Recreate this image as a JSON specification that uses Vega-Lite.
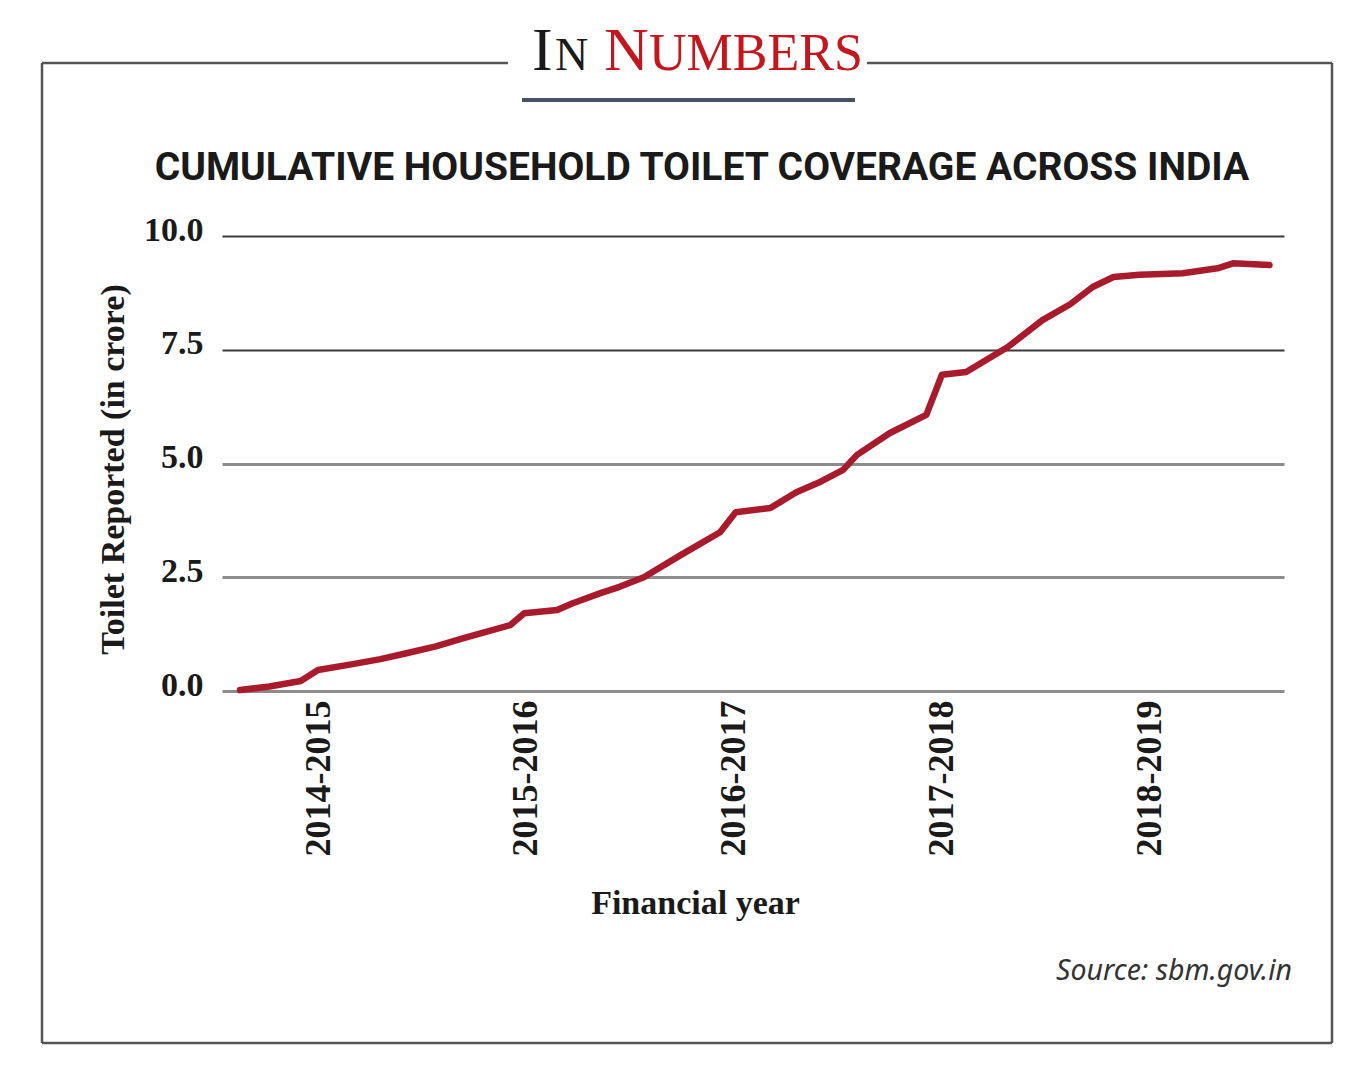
{
  "$schema": "https://vega.github.io/schema/vega-lite/v6.json",
  "autosize": {"type": "none"},
  "width": 1062,
  "height": 455,
  "padding": {"left": 222, "top": 236, "right": 68, "bottom": 379},
  "background": "white",
  "config": {"view": {"stroke": null}},
  "data": {"values": [
    {"t": -4.5, "v": 0.02}, {"t": -2.8, "v": 0.10}, {"t": -1.0, "v": 0.22}, {"t": 0.0, "v": 0.46},
    {"t": 2.0, "v": 0.59}, {"t": 3.6, "v": 0.70}, {"t": 5.1, "v": 0.83}, {"t": 6.8, "v": 0.98},
    {"t": 8.4, "v": 1.16}, {"t": 9.9, "v": 1.32}, {"t": 11.1, "v": 1.45}, {"t": 11.9, "v": 1.71},
    {"t": 13.8, "v": 1.78}, {"t": 14.7, "v": 1.93}, {"t": 16.3, "v": 2.15}, {"t": 17.4, "v": 2.29},
    {"t": 18.8, "v": 2.50}, {"t": 20.9, "v": 2.98}, {"t": 23.2, "v": 3.49}, {"t": 24.1, "v": 3.93},
    {"t": 26.1, "v": 4.02}, {"t": 27.6, "v": 4.37}, {"t": 29.0, "v": 4.60}, {"t": 30.3, "v": 4.86},
    {"t": 31.1, "v": 5.19}, {"t": 33.0, "v": 5.67}, {"t": 35.1, "v": 6.07}, {"t": 36.0, "v": 6.95},
    {"t": 37.4, "v": 7.01}, {"t": 39.8, "v": 7.56}, {"t": 41.8, "v": 8.15}, {"t": 43.4, "v": 8.50},
    {"t": 44.7, "v": 8.88}, {"t": 45.9, "v": 9.10}, {"t": 47.4, "v": 9.15}, {"t": 49.9, "v": 9.18},
    {"t": 51.9, "v": 9.29}, {"t": 52.8, "v": 9.40}, {"t": 54.9, "v": 9.36}
  ]},
  "layer": [
    {
      "mark": {"type": "line", "color": "#a91b2c", "strokeWidth": 6.5, "strokeJoin": "round", "strokeCap": "round"},
      "encoding": {
        "x": {"field": "t", "type": "quantitative",
          "scale": {"domain": [-5.54, 55.74], "nice": false, "zero": false},
          "axis": {
            "values": [0, 12, 24, 36, 48],
            "labelExpr": "(2014 + datum.value/12) + '-' + (2015 + datum.value/12)",
            "labelAngle": -90, "labelFont": "Liberation Serif", "labelFontSize": 36, "labelFontWeight": "bold",
            "labelColor": "#1a1a1a", "ticks": false, "domain": false, "grid": false, "labelPadding": 9,
            "title": "Financial year", "titleFont": "Liberation Serif", "titleFontSize": 34, "titleFontWeight": "bold",
            "titleColor": "#1a1a1a", "titleX": 473, "titleY": 212, "titleAlign": "center", "titleBaseline": "middle"
          }},
        "y": {"field": "v", "type": "quantitative",
          "scale": {"domain": [0, 10], "nice": false},
          "axis": {
            "values": [0, 2.5, 5, 7.5, 10], "format": ".1f",
            "labelFont": "Liberation Serif", "labelFontSize": 34, "labelFontWeight": "bold", "labelColor": "#1a1a1a",
            "ticks": false, "domain": false, "labelPadding": 19, "labelOffset": -6,
            "grid": true,
            "gridColor": {"condition": {"test": "datum.value >= 7.5", "value": "#3a3a3a"}, "value": "#8c8c8c"},
            "gridWidth": {"condition": {"test": "datum.value >= 7.5", "value": 2}, "value": 3},
            "title": "Toilet Reported (in crore)", "titleFont": "Liberation Serif", "titleFontSize": 34,
            "titleFontWeight": "bold", "titleColor": "#1a1a1a",
            "titleX": -109, "titleY": 233, "titleAlign": "center", "titleBaseline": "middle"
          }}
      }
    },
    {
      "data": {"values": [{}]},
      "mark": {"type": "rule", "color": "#555555", "strokeWidth": 2.5},
      "encoding": {"x": {"value": -180}, "y": {"value": -173}, "y2": {"value": 807}}
    },
    {
      "data": {"values": [{}]},
      "mark": {"type": "rule", "color": "#555555", "strokeWidth": 2.5},
      "encoding": {"x": {"value": 1110}, "y": {"value": -173}, "y2": {"value": 807}}
    },
    {
      "data": {"values": [{}]},
      "mark": {"type": "rule", "color": "#555555", "strokeWidth": 2.5},
      "encoding": {"x": {"value": -180}, "x2": {"value": 1110}, "y": {"value": 807}}
    },
    {
      "data": {"values": [{}]},
      "mark": {"type": "rule", "color": "#555555", "strokeWidth": 2.5},
      "encoding": {"x": {"value": -180}, "x2": {"value": 286}, "y": {"value": -173}}
    },
    {
      "data": {"values": [{}]},
      "mark": {"type": "rule", "color": "#555555", "strokeWidth": 2.5},
      "encoding": {"x": {"value": 645}, "x2": {"value": 1110}, "y": {"value": -173}}
    },
    {
      "data": {"values": [{}]},
      "mark": {"type": "rule", "color": "#4a5068", "strokeWidth": 4},
      "encoding": {"x": {"value": 300}, "x2": {"value": 633}, "y": {"value": -136}}
    },
    {
      "data": {"values": [{"s": "I"}]},
      "mark": {"type": "text", "font": "Liberation Serif", "fontSize": 62, "color": "#1a1a1a", "align": "left", "baseline": "alphabetic"},
      "encoding": {"text": {"field": "s"}, "x": {"value": 310}, "y": {"value": -166}}
    },
    {
      "data": {"values": [{"s": "N"}]},
      "mark": {"type": "text", "font": "Liberation Serif", "fontSize": 46, "color": "#1a1a1a", "align": "left", "baseline": "alphabetic"},
      "encoding": {"text": {"field": "s"}, "x": {"value": 333}, "y": {"value": -166}}
    },
    {
      "data": {"values": [{"s": "N"}]},
      "mark": {"type": "text", "font": "Liberation Serif", "fontSize": 62, "color": "#c4161c", "align": "left", "baseline": "alphabetic"},
      "encoding": {"text": {"field": "s"}, "x": {"value": 382}, "y": {"value": -166}}
    },
    {
      "data": {"values": [{"s": "UMBERS"}]},
      "mark": {"type": "text", "font": "Liberation Serif", "fontSize": 52, "color": "#c4161c", "align": "left", "baseline": "alphabetic"},
      "encoding": {"text": {"field": "s"}, "x": {"value": 427}, "y": {"value": -166}}
    },
    {
      "data": {"values": [{"s": "CUMULATIVE HOUSEHOLD TOILET COVERAGE ACROSS INDIA"}]},
      "mark": {"type": "text", "font": "Roboto", "fontSize": 39, "fontWeight": "bold", "color": "#1a1a1a", "align": "center", "baseline": "alphabetic"},
      "encoding": {"text": {"field": "s"}, "x": {"value": 480}, "y": {"value": -56}}
    },
    {
      "data": {"values": [{"s": "Source: sbm.gov.in"}]},
      "mark": {"type": "text", "font": "Noto Sans", "fontSize": 28.5, "fontStyle": "italic", "color": "#333333", "align": "right", "baseline": "alphabetic"},
      "encoding": {"text": {"field": "s"}, "x": {"value": 1070}, "y": {"value": 744}}
    }
  ]
}
